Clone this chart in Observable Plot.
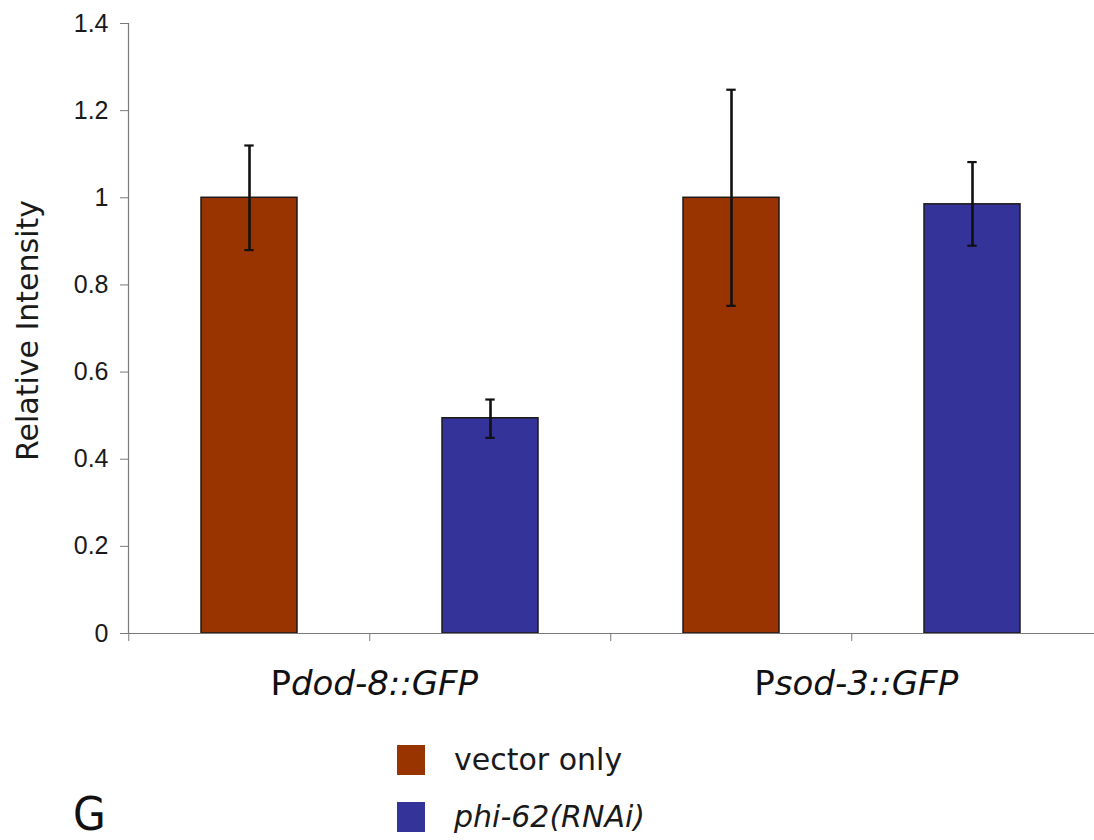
<!DOCTYPE html>
<html>
<head>
<meta charset="utf-8">
<script src="https://cdn.jsdelivr.net/npm/d3@7"></script>
<script src="https://cdn.jsdelivr.net/npm/@observablehq/plot@0.6"></script>
<style>
  body { margin: 0; background: #fff; }
  #wrap { position: relative; width: 1094px; height: 840px; overflow: hidden; background: #fff; }
  .lg { position: absolute; left: 397px; display: flex; align-items: center; height: 30px;
        font-family: "DejaVu Sans", sans-serif; font-size: 30px; color: #1a1a1a; line-height: 30px; }
  .sw { width: 28px; height: 30px; margin-right: 29px; }
  #panel { position: absolute; left: 73px; top: 792px; font-family: "DejaVu Sans Condensed", "DejaVu Sans", sans-serif;
           font-size: 47px; line-height: 44px; color: #111; }
</style>
</head>
<body>
<div id="wrap">
  <div id="chart"></div>
  <div id="legend"></div>
  <div id="panel">G</div>
</div>
<script>
// ---- data ----
const groups = ["Pdod-8::GFP", "Psod-3::GFP"];
const seriesNames = ["vector only", "phi-62(RNAi)"];
const seriesColors = ["#993300", "#333399"];
const vectorOnly = [1.0, 1.0];
const vectorLow = [0.88, 0.752];
const vectorHigh = [1.12, 1.248];
const phi62 = [0.494, 0.985];
const phiLow = [0.449, 0.89];
const phiHigh = [0.537, 1.082];
const yTicks = [0, 0.2, 0.4, 0.6, 0.8, 1, 1.2, 1.4];
const yLabel = "Relative Intensity";

// ---- table built from arrays ----
const rows = [];
groups.forEach((g, i) => {
  rows.push({group: g, series: seriesNames[0], key: g + "|" + seriesNames[0], value: vectorOnly[i], lo: vectorLow[i], hi: vectorHigh[i]});
  rows.push({group: g, series: seriesNames[1], key: g + "|" + seriesNames[1], value: phi62[i], lo: phiLow[i], hi: phiHigh[i]});
});
const keys = rows.map(d => d.key);
const firstKeys = groups.map(g => g + "|" + seriesNames[0]);

const W = 1094, H = 720, ML = 128, MR = 0, MT = 23, MB = 87;
const step = (W - ML - MR) / keys.length;
const bandwidth = step * 0.4;
const capW = 10;

const chart = Plot.plot({
  width: W,
  height: H,
  marginLeft: ML,
  marginRight: MR,
  marginTop: MT,
  marginBottom: MB,
  style: {fontFamily: "DejaVu Sans, sans-serif", fontSize: "22px", background: "#fff", color: "#1a1a1a"},
  x: {type: "band", domain: keys, paddingInner: 0.6, paddingOuter: 0.3},
  y: {domain: [0, 1.4]},
  color: {domain: seriesNames, range: seriesColors},
  marks: [
    Plot.axisY({
      ticks: yTicks,
      tickFormat: d => String(+d.toFixed(1)),
      tickSize: 8,
      tickPadding: 12,
      stroke: "#7a7a7a",
      fill: "#1a1a1a",
      fontSize: 25,
      fontFamily: "Liberation Sans, Arial, sans-serif",
      label: null
    }),
    Plot.text([yLabel], {
      frameAnchor: "left",
      textAnchor: "middle",
      rotate: -90,
      dx: -100,
      dy: 2,
      text: d => d,
      fontSize: 30,
      fill: "#1a1a1a"
    }),
    Plot.axisX({
      tickSize: 8,
      tickFormat: () => "",
      stroke: "#7a7a7a",
      dx: -step / 2,
      label: null
    }),
    Plot.frame({anchor: "left", stroke: "#7a7a7a", strokeWidth: 1.2}),
    Plot.barY(rows, {x: "key", y: "value", fill: "series", stroke: "#1e1a18", strokeWidth: 1.5}),
    Plot.ruleX(rows, {x: "key", y1: "lo", y2: "hi", stroke: "#111", strokeWidth: 2.6}),
    Plot.tickY(rows, {x: "key", y: "hi", stroke: "#111", strokeWidth: 2.2, insetLeft: (bandwidth - capW) / 2, insetRight: (bandwidth - capW) / 2}),
    Plot.tickY(rows, {x: "key", y: "lo", stroke: "#111", strokeWidth: 2.2, insetLeft: (bandwidth - capW) / 2, insetRight: (bandwidth - capW) / 2}),
    Plot.ruleY([0], {stroke: "#7a7a7a", strokeWidth: 1.2}),
    Plot.text(groups, {
      x: (d, i) => firstKeys[i],
      y: () => 0,
      text: d => d,
      dx: step / 2 + 4,
      dy: 61,
      lineAnchor: "bottom",
      fontSize: 34,
      fill: "#111",
      className: "grouplabel"
    })
  ]
});

document.getElementById("chart").appendChild(chart);

// mixed style for group labels: "P" upright, gene name italic
chart.querySelectorAll(".grouplabel text").forEach(t => {
  const s = t.textContent;
  t.textContent = "";
  const a = document.createElementNS("http://www.w3.org/2000/svg", "tspan");
  a.textContent = s.slice(0, 1);
  const b = document.createElementNS("http://www.w3.org/2000/svg", "tspan");
  b.textContent = s.slice(1);
  b.setAttribute("font-style", "italic");
  t.appendChild(a); t.appendChild(b);
});

// legend
const legend = document.getElementById("legend");
seriesNames.forEach((name, i) => {
  const row = document.createElement("div");
  row.className = "lg";
  row.style.top = (745 + i * 57) + "px";
  const sw = document.createElement("div");
  sw.className = "sw";
  sw.style.background = seriesColors[i];
  const tx = document.createElement("span");
  tx.textContent = name;
  if (i === 1) tx.style.fontStyle = "italic";
  row.appendChild(sw); row.appendChild(tx);
  legend.appendChild(row);
});
</script>
</body>
</html>
